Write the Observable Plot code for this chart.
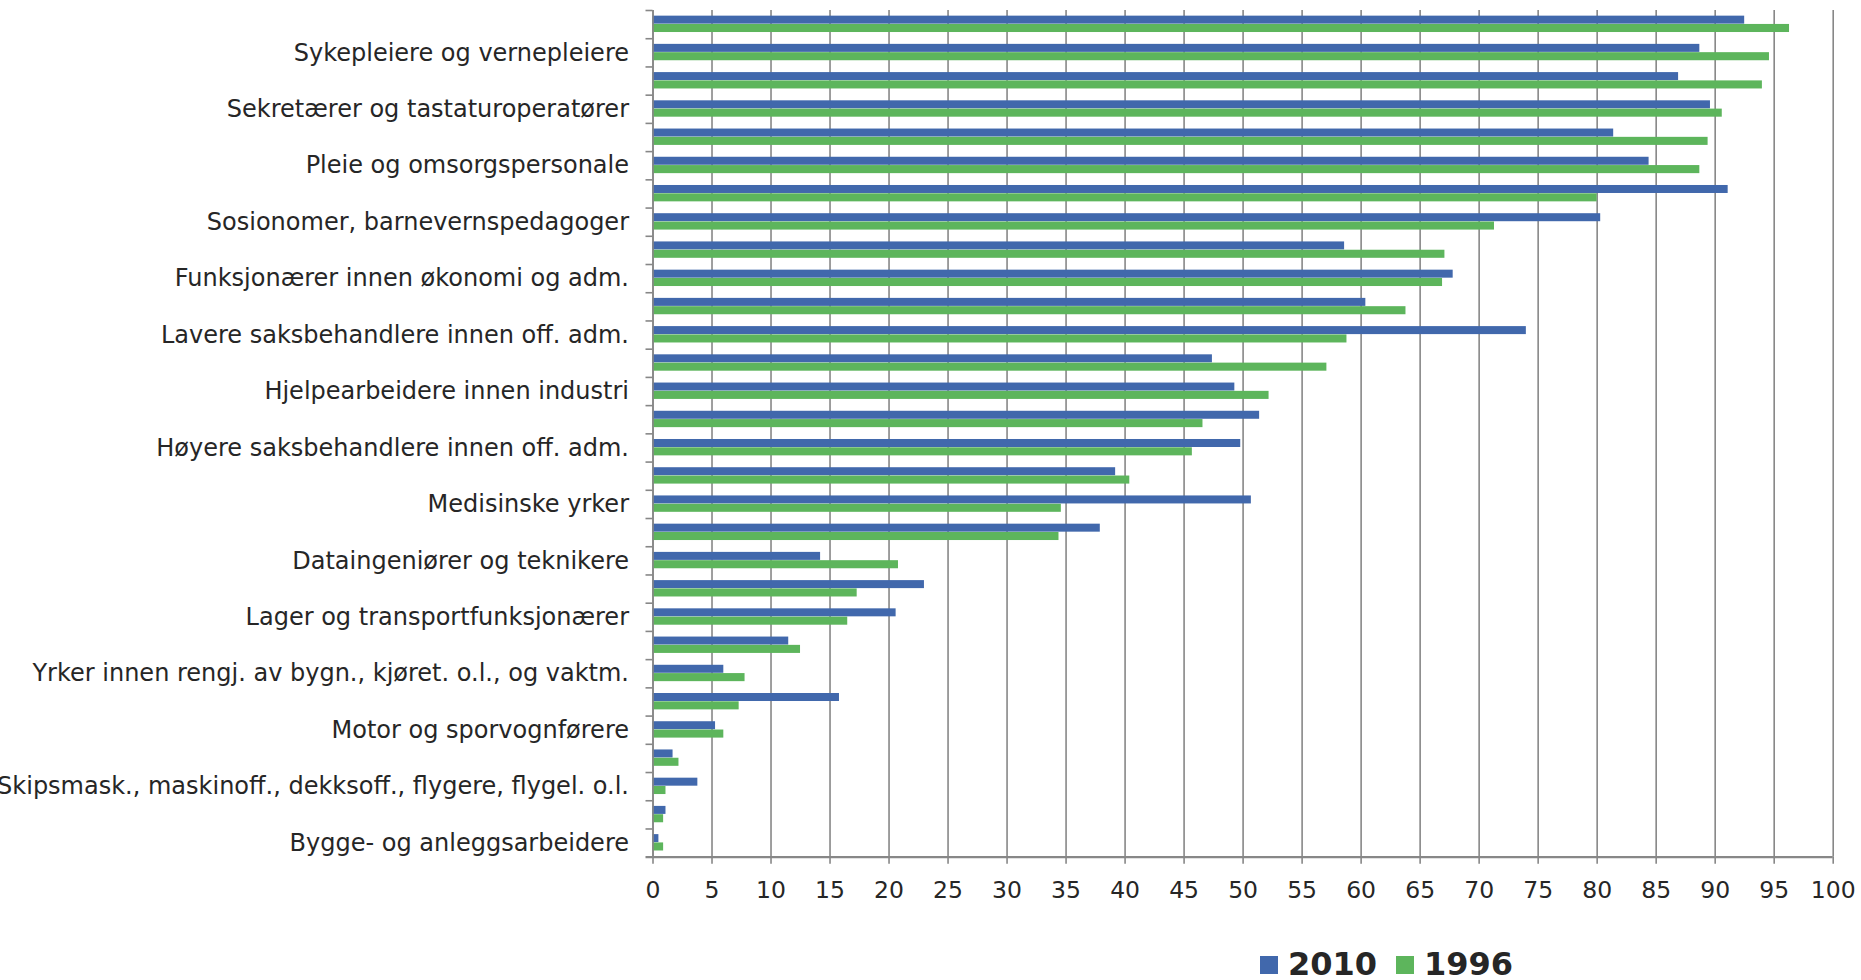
<!DOCTYPE html>
<html>
<head>
<meta charset="utf-8">
<script src="https://cdn.jsdelivr.net/npm/d3@7"></script>
<script src="https://cdn.jsdelivr.net/npm/@observablehq/plot@0.6"></script>
<style>
  html, body { margin: 0; padding: 0; background: #fff; overflow: hidden; }
  #chart { width: 1861px; }
  #legend { position: relative; width: 1861px; height: 65px; font-family: "DejaVu Sans", Verdana, sans-serif; }
  #legend .items { position: absolute; left: 1260px; top: 37px; display: flex; align-items: center; }
  #legend .sw { width: 18px; height: 18px; display: inline-block; margin-right: 10px; }
  #legend .lbl { font-weight: bold; font-size: 32px; color: #262626; margin-right: 19px; line-height: 25px; }
</style>
</head>
<body>
<div id="chart"></div>
<div id="legend"></div>
<script>
// 30 occupation groups, top to bottom; only every second one carries a visible label
const occupations = [
  "Yrkesgruppe 1", "Sykepleiere og vernepleiere",
  "Yrkesgruppe 3", "Sekretærer og tastaturoperatører",
  "Yrkesgruppe 5", "Pleie og omsorgspersonale",
  "Yrkesgruppe 7", "Sosionomer, barnevernspedagoger",
  "Yrkesgruppe 9", "Funksjonærer innen økonomi og adm.",
  "Yrkesgruppe 11", "Lavere saksbehandlere innen off. adm.",
  "Yrkesgruppe 13", "Hjelpearbeidere innen industri",
  "Yrkesgruppe 15", "Høyere saksbehandlere innen off. adm.",
  "Yrkesgruppe 17", "Medisinske yrker",
  "Yrkesgruppe 19", "Dataingeniører og teknikere",
  "Yrkesgruppe 21", "Lager og transportfunksjonærer",
  "Yrkesgruppe 23", "Yrker innen rengj. av bygn., kjøret. o.l., og vaktm.",
  "Yrkesgruppe 25", "Motor og sporvognførere",
  "Yrkesgruppe 27", "Skipsmask., maskinoff., dekksoff., flygere, flygel. o.l.",
  "Yrkesgruppe 29", "Bygge- og anleggsarbeidere"
];
const shownLabels = occupations.filter((d, i) => i % 2 === 1);

const values2010 = [92.5, 88.7, 86.9, 89.6, 81.4, 84.4, 91.1, 80.3, 58.6, 67.8,
                    60.4, 74.0, 47.4, 49.3, 51.4, 49.8, 39.2, 50.7, 37.9, 14.2,
                    23.0, 20.6, 11.5, 6.0, 15.8, 5.3, 1.7, 3.8, 1.1, 0.5];
const values1996 = [96.3, 94.6, 94.0, 90.6, 89.4, 88.7, 80.0, 71.3, 67.1, 66.9,
                    63.8, 58.8, 57.1, 52.2, 46.6, 45.7, 40.4, 34.6, 34.4, 20.8,
                    17.3, 16.5, 12.5, 7.8, 7.3, 6.0, 2.2, 1.1, 0.9, 0.9];
const xTicks = d3.range(0, 101, 5);
const seriesNames = ["2010", "1996"];
const seriesColors = ["#4168ac", "#5db55c"];

const rows2010 = occupations.map((o, i) => ({occupation: o, value: values2010[i]}));
const rows1996 = occupations.map((o, i) => ({occupation: o, value: values1996[i]}));

const W = 1861, H = 915, mTop = 10, mBottom = 58.3;
const band = (H - mTop - mBottom) / occupations.length;
const grey = "#878787";
const font = "'DejaVu Sans', Verdana, sans-serif";

const plot = Plot.plot({
  width: W,
  height: H,
  marginLeft: 652.5,
  marginRight: 28.3,
  marginTop: mTop,
  marginBottom: mBottom,
  style: {fontFamily: font, fontSize: "24px", color: "#262626", background: "#fff"},
  x: {domain: [0, 100], round: false},
  y: {domain: occupations, padding: 0, round: false},
  marks: [
    Plot.ruleX(xTicks, {stroke: grey, strokeWidth: 1.6}),
    Plot.barX(rows2010, {y: "occupation", x: "value", fill: seriesColors[0],
      insetTop: band * 0.2, insetBottom: band - band * 0.2 - 8}),
    Plot.barX(rows1996, {y: "occupation", x: "value", fill: seriesColors[1],
      insetTop: band * 0.2 + 8.3, insetBottom: band * 0.22}),
    Plot.ruleX([0], {stroke: grey, strokeWidth: 1.6}),
    Plot.ruleY(occupations, {y: d => d, dy: -band / 2, x1: 0, x2: 0, insetLeft: -7, stroke: grey, strokeWidth: 1.6}),
    Plot.ruleY(occupations.slice(-1), {y: d => d, dy: band / 2, x1: 0, x2: 100, insetLeft: -7, stroke: grey, strokeWidth: 2.2}),
    Plot.axisX({ticks: xTicks, tickSize: 7, tickPadding: 17, stroke: grey, strokeWidth: 1.6,
      fontSize: 23.5, tickFormat: d => String(d), label: null, fill: "#262626"}),
    Plot.axisY({tickSize: 0, tickPadding: 24, fontSize: 24, label: null, fill: "#262626",
      tickFormat: d => shownLabels.includes(d) ? d : ""})
  ]
});
document.getElementById("chart").appendChild(plot);

const legend = document.getElementById("legend");
const items = document.createElement("div");
items.className = "items";
seriesNames.forEach((name, i) => {
  const sw = document.createElement("span");
  sw.className = "sw";
  sw.style.background = seriesColors[i];
  const lbl = document.createElement("span");
  lbl.className = "lbl";
  lbl.textContent = name;
  items.appendChild(sw);
  items.appendChild(lbl);
});
legend.appendChild(items);
</script>
</body>
</html>
